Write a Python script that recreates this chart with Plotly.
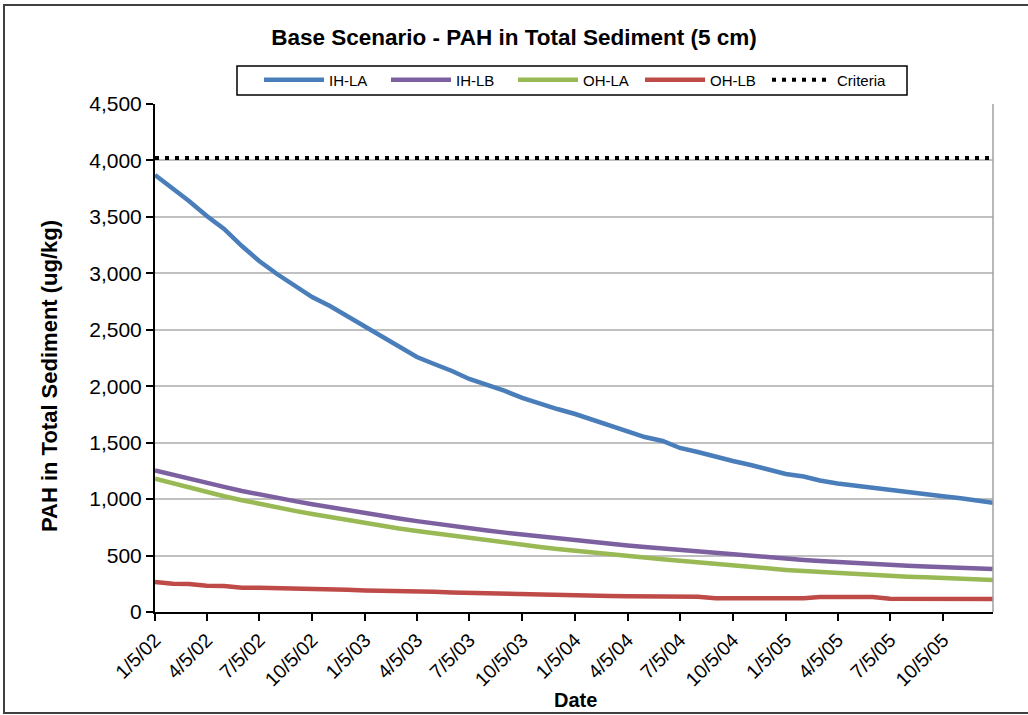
import pandas as pd
import plotly.graph_objects as go

# ---------------- data ----------------
dates = [d.strftime("%Y-%m-%d") for d in pd.date_range("2002-01-05", periods=48, freq=pd.DateOffset(months=1))] + ["2005-12-31"]

ih_la = [3871, 3756, 3641, 3508, 3393, 3242, 3109, 2994, 2888, 2790, 2711, 2622,
         2525, 2427, 2347, 2259, 2197, 2135, 2064, 2011, 1958, 1896, 1843, 1798,
         1754, 1701, 1656, 1594, 1550, 1515, 1453, 1417, 1382, 1338, 1302, 1258,
         1222, 1200, 1165, 1138, 1118, 1098, 1081, 1061, 1043, 1026, 1008, 988, 968]

ih_lb = [1255, 1215, 1180, 1142, 1108, 1072, 1040, 1010, 982, 955, 928, 900,
         875, 850, 828, 805, 783, 762, 741, 722, 703, 686, 668, 652,
         636, 620, 605, 590, 576, 562, 549, 536, 522, 509, 496, 483,
         471, 461, 451, 441, 433, 425, 416, 410, 404, 398, 392, 386, 381]

oh_la = [1180, 1138, 1100, 1061, 1025, 990, 957, 925, 896, 868, 840, 813,
         788, 763, 740, 718, 697, 676, 656, 635, 615, 595, 576, 558,
         541, 525, 511, 496, 482, 467, 453, 438, 423, 408, 396, 384,
         373, 363, 354, 345, 336, 328, 320, 313, 307, 301, 295, 289, 283]

oh_lb = [266, 250, 248, 232, 230, 215, 214, 212, 205, 204, 198, 196,
         190, 189, 186, 180, 179, 172, 168, 167, 160, 152, 151, 150,
         148, 143, 141, 140, 138, 137, 136, 135, 122, 121, 121, 120,
         120, 121, 133, 133, 133, 133, 118, 117, 117, 116, 116, 115, 115]

criteria_value = 4022

tick_dates = ["2002-01-05", "2002-04-05", "2002-07-05", "2002-10-05",
              "2003-01-05", "2003-04-05", "2003-07-05", "2003-10-05",
              "2004-01-05", "2004-04-05", "2004-07-05", "2004-10-05",
              "2005-01-05", "2005-04-05", "2005-07-05", "2005-10-05"]
tick_labels = ["1/5/02", "4/5/02", "7/5/02", "10/5/02",
               "1/5/03", "4/5/03", "7/5/03", "10/5/03",
               "1/5/04", "4/5/04", "7/5/04", "10/5/04",
               "1/5/05", "4/5/05", "7/5/05", "10/5/05"]

y_ticks = [0, 500, 1000, 1500, 2000, 2500, 3000, 3500, 4000, 4500]

# ---------------- figure ----------------
FONT = "Liberation Sans, Arial, sans-serif"
W, H = 1028, 715
L, R, T, B = 155, 35, 104, 103

fig = go.Figure()
series = [("IH-LA", ih_la, "#4a7ebb"), ("IH-LB", ih_lb, "#7d60a0"),
          ("OH-LA", oh_la, "#98b954"), ("OH-LB", oh_lb, "#be4b48")]
for name, vals, col in series:
    fig.add_trace(go.Scatter(x=dates, y=vals, mode="lines", name=name,
                             line=dict(color=col, width=4.5)))
fig.add_trace(go.Scatter(x=[dates[0], dates[-1]], y=[criteria_value, criteria_value],
                         mode="lines", name="Criteria",
                         line=dict(color="black", width=4, dash="4px,6px")))

pw = W - L - R
ph = H - T - B
def px_x(px):
    return (px - L) / pw
def px_y(py):
    return (H - B - py) / ph

fig.update_layout(
    width=W, height=H,
    margin=dict(l=L, r=R, t=T, b=B),
    paper_bgcolor="white", plot_bgcolor="white",
    font=dict(family=FONT, color="black"),
    title=dict(text="<b>Base Scenario - PAH in Total Sediment (5 cm)</b>",
               x=0.5, xref="container", xanchor="center",
               y=1 - 37 / H, yref="container", yanchor="middle",
               font=dict(size=22.5, family=FONT, color="black")),
    showlegend=True,
    legend=dict(orientation="h", x=px_x(259), xanchor="left",
                y=px_y(80), yanchor="middle",
                borderwidth=0,
                font=dict(size=15, family=FONT),
                itemwidth=60, entrywidth=52, entrywidthmode="pixels",
                tracegroupgap=0, bgcolor="rgba(0,0,0,0)"),
    xaxis=dict(type="date", range=["2002-01-05", "2005-12-31"],
               tickmode="array", tickvals=tick_dates, ticktext=tick_labels,
               tickangle=-45, ticks="outside", ticklen=7, tickwidth=1.5,
               tickcolor="black", showgrid=False, zeroline=False,
               showline=True, linecolor="black", linewidth=2,
               tickfont=dict(size=19.5, family=FONT)),
    yaxis=dict(range=[0, 4500], tickmode="array", tickvals=y_ticks,
               tickformat=",d", ticks="outside", ticklen=7, tickwidth=1.5,
               tickcolor="black", showgrid=True, gridcolor="#c0c0c0",
               gridwidth=1.5, zeroline=False, showline=True,
               linecolor="black", linewidth=2,
               tickfont=dict(size=21, family=FONT)),
    annotations=[
        dict(text="<b>PAH in Total Sediment (ug/kg)</b>", textangle=-90,
             xref="paper", yref="paper", x=px_x(50), y=px_y(376),
             xanchor="center", yanchor="middle", showarrow=False,
             font=dict(size=22, family=FONT)),
        dict(text="<b>Date</b>", xref="paper", yref="paper",
             x=px_x(575), y=px_y(700), xanchor="center", yanchor="middle",
             showarrow=False, font=dict(size=20, family=FONT)),
    ],
    shapes=[
        # plot area right border
        dict(type="line", xref="paper", yref="paper", x0=1, x1=1, y0=0, y1=1,
             line=dict(color="#a0a0a0", width=1.5)),
        # legend box
        dict(type="rect", xref="paper", yref="paper",
             x0=px_x(237), x1=px_x(907), y0=px_y(95), y1=px_y(66),
             line=dict(color="black", width=1.5), fillcolor="white", layer="below"),
        # chart area outer border
        dict(type="rect", xref="paper", yref="paper",
             x0=px_x(4), x1=px_x(1070), y0=px_y(713), y1=px_y(5),
             line=dict(color="#404040", width=2), layer="below"),
    ],
)

fig.write_html("out.html", config={"displayModeBar": False},
               post_script="document.body.style.margin='0px';")
